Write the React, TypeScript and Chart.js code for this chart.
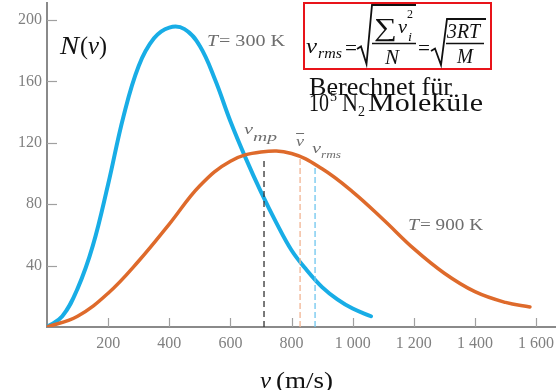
import React, { useEffect, useRef } from "react";
import { Chart, registerables } from "chart.js";

Chart.register(...registerables);

// T = 300 K curve (speed m/s, N(v))
const speedsCold = [0, 50, 100, 150, 200, 250, 300, 350, 400, 450, 500, 550, 600, 650, 700, 750, 800, 850, 900, 950, 1000, 1060];
const countsCold = [0, 7, 25, 53, 93, 137, 170, 188, 195, 194, 183, 161, 134, 110, 88, 68, 50, 37, 26, 18, 12, 7];

// T = 900 K curve
const speedsHot = [0, 100, 200, 300, 400, 500, 600, 700, 800, 900, 1000, 1100, 1200, 1300, 1400, 1500, 1580];
const countsHot = [0, 7, 22, 43, 67, 92, 108, 114, 113, 103, 88, 70, 51, 35, 23, 16, 13];

// characteristic speeds at 900 K: v_mp, v_avg, v_rms
const markerSpeeds = [710, 828, 877];
const markerTops = [110, 111, 104];

const xTickValues = [200, 400, 600, 800, 1000, 1200, 1400, 1600];
const xTickLabels = ["200", "400", "600", "800", "1 000", "1 200", "1 400", "1 600"];
const yTickValues = [40, 80, 120, 160, 200];
const yTickLabels = ["40", "80", "120", "160", "200"];

const X_MAX = 1662;
const Y_MAX = 211;

const BLUE = "#18ade6";
const ORANGE = "#de6a2b";
const AXIS = "#8a8a8a";

function fitText(ctx: CanvasRenderingContext2D, text: string, x: number, y: number, w: number, font: string, color: string) {
  ctx.save();
  ctx.font = font;
  ctx.fillStyle = color;
  ctx.textAlign = "left";
  ctx.textBaseline = "alphabetic";
  const m = ctx.measureText(text).width || 1;
  ctx.translate(x, y);
  ctx.scale(w / m, 1);
  ctx.fillText(text, 0, 0);
  ctx.restore();
}

function path(ctx: CanvasRenderingContext2D, pts: number[][], width: number, color: string) {
  ctx.save();
  ctx.strokeStyle = color;
  ctx.lineWidth = width;
  ctx.lineJoin = "miter";
  ctx.beginPath();
  pts.forEach((p, i) => (i === 0 ? ctx.moveTo(p[0], p[1]) : ctx.lineTo(p[0], p[1])));
  ctx.stroke();
  ctx.restore();
}

const SERIF = "'Liberation Serif', 'DejaVu Serif', serif";

const annotationPlugin = {
  id: "annotations",
  afterDraw(chart: any) {
    const ctx: CanvasRenderingContext2D = chart.ctx;
    const xs = chart.scales.x;
    const ys = chart.scales.y;
    const area = chart.chartArea;

    // inward tick marks
    ctx.save();
    ctx.strokeStyle = "#a0a0a0";
    ctx.lineWidth = 1.2;
    yTickValues.forEach((v) => {
      const py = Math.round(ys.getPixelForValue(v)) + 0.5;
      ctx.beginPath();
      ctx.moveTo(area.left, py);
      ctx.lineTo(area.left + 10, py);
      ctx.stroke();
    });
    xTickValues.forEach((v) => {
      const px = Math.round(xs.getPixelForValue(v)) + 0.5;
      ctx.beginPath();
      ctx.moveTo(px, area.bottom);
      ctx.lineTo(px, area.bottom - 9);
      ctx.stroke();
    });
    ctx.restore();

    const gray = "#6e6e6e";
    // curve labels
    fitText(ctx, "T", 207, 46, 11, `italic 16px ${SERIF}`, gray);
    fitText(ctx, "= 300 K", 219, 46, 66, `16px ${SERIF}`, gray);
    fitText(ctx, "T", 408, 230, 11, `italic 16px ${SERIF}`, gray);
    fitText(ctx, "= 900 K", 420, 230, 63, `16px ${SERIF}`, gray);

    // speed labels
    const pmp = xs.getPixelForValue(markerSpeeds[0]);
    const pav = xs.getPixelForValue(markerSpeeds[1]);
    const prm = xs.getPixelForValue(markerSpeeds[2]);
    fitText(ctx, "v", pmp - 20, 134, 9, `italic 15px ${SERIF}`, gray);
    fitText(ctx, "mp", pmp - 11, 141, 24, `italic 12px ${SERIF}`, gray);
    fitText(ctx, "v", pav - 4, 146, 8, `italic 15px ${SERIF}`, gray);
    path(ctx, [[pav - 4, 133.5], [pav + 4, 133.5]], 1, gray);
    fitText(ctx, "v", prm - 3, 153, 9, `italic 15px ${SERIF}`, gray);
    fitText(ctx, "rms", prm + 6, 158, 20, `italic 11px ${SERIF}`, gray);

    // N(v)
    fitText(ctx, "N", 60, 54, 19, `italic 25px ${SERIF}`, "#111");
    fitText(ctx, "(", 80, 54, 8, `25px ${SERIF}`, "#111");
    fitText(ctx, "v", 88, 54, 11, `italic 25px ${SERIF}`, "#111");
    fitText(ctx, ")", 99, 54, 8, `25px ${SERIF}`, "#111");

    // x-axis title
    fitText(ctx, "v", 260, 388, 11, `italic 24px ${SERIF}`, "#111");
    fitText(ctx, "(m/s)", 276, 388, 57, `24px ${SERIF}`, "#111");

    // formula box
    ctx.save();
    ctx.strokeStyle = "#e8141a";
    ctx.lineWidth = 2;
    ctx.strokeRect(304, 3, 187, 66);
    ctx.restore();
    const k = "#111";
    fitText(ctx, "v", 306, 53, 11, `italic 21px ${SERIF}`, k);
    fitText(ctx, "rms", 318, 58, 24, `italic 14px ${SERIF}`, k);
    fitText(ctx, "=", 345, 55, 12, `20px ${SERIF}`, k);
    path(ctx, [[357, 49], [361, 46.5], [366.5, 64], [372, 5], [416, 5]], 1.8, k);
    fitText(ctx, "\u2211", 374, 36, 23, `26px ${SERIF}`, k);
    fitText(ctx, "v", 398, 33, 9, `italic 18px ${SERIF}`, k);
    fitText(ctx, "2", 407, 18, 6, `12px ${SERIF}`, k);
    fitText(ctx, "i", 408, 41, 4, `italic 13px ${SERIF}`, k);
    path(ctx, [[372, 43.5], [416, 43.5]], 1.6, k);
    fitText(ctx, "N", 385, 64, 14, `italic 20px ${SERIF}`, k);
    fitText(ctx, "=", 418, 55, 12, `20px ${SERIF}`, k);
    path(ctx, [[431, 51], [435, 48.5], [441, 65], [447, 19], [486, 19]], 1.8, k);
    fitText(ctx, "3RT", 447, 38, 33, `italic 20px ${SERIF}`, k);
    path(ctx, [[446, 43.5], [484, 43.5]], 1.6, k);
    fitText(ctx, "M", 457, 63, 16, `italic 20px ${SERIF}`, k);

    // description
    fitText(ctx, "Berechnet f\u00fcr", 309, 95, 143, `25px ${SERIF}`, k);
    fitText(ctx, "10", 309, 111, 20, `25px ${SERIF}`, k);
    fitText(ctx, "5", 330, 101, 7, `15px ${SERIF}`, k);
    fitText(ctx, "N", 342, 111, 16, `25px ${SERIF}`, k);
    fitText(ctx, "2", 358, 116, 7, `15px ${SERIF}`, k);
    fitText(ctx, "Molek\u00fcle", 368, 111, 115, `26px ${SERIF}`, k);
  },
};

export default function App() {
  const ref = useRef<HTMLCanvasElement>(null);

  useEffect(() => {
    if (!ref.current) return;
    const toPts = (xs: number[], ys: number[]) => xs.map((x, i) => ({ x, y: ys[i] }));
    const markerColors = ["#333333", "#f2b493", "#6fc6ee"];
    const markerDash = [[6, 4], [6, 3], [6, 3]];
    const markerSets = markerSpeeds.map((s, i) => ({
      data: [{ x: s, y: 0 }, { x: s, y: markerTops[i] }],
      borderColor: markerColors[i],
      borderWidth: 1.3,
      borderDash: markerDash[i],
      pointRadius: 0,
      tension: 0,
    }));

    const chart = new Chart(ref.current, {
      type: "line",
      data: {
        datasets: [
          ...markerSets,
          {
            data: toPts(speedsHot, countsHot),
            borderColor: ORANGE,
            borderWidth: 3.5,
            pointRadius: 0,
            tension: 0.4,
            borderCapStyle: "round",
          },
          {
            data: toPts(speedsCold, countsCold),
            borderColor: BLUE,
            borderWidth: 4,
            pointRadius: 0,
            tension: 0.4,
            borderCapStyle: "round",
          },
        ] as any,
      },
      options: {
        responsive: false,
        animation: false,
        layout: { padding: { left: 0, top: 3, right: 3, bottom: 0 } },
        plugins: { legend: { display: false }, tooltip: { enabled: false } },
        scales: {
          x: {
            type: "linear",
            min: 0,
            max: X_MAX,
            afterBuildTicks: (axis: any) => {
              axis.ticks = xTickValues.map((v) => ({ value: v }));
            },
            afterFit: (scale: any) => {
              scale.height = 63;
              scale.paddingLeft = 0;
              scale.paddingRight = 0;
            },
            grid: { display: false, drawTicks: false },
            border: { display: true, color: AXIS, width: 2 },
            ticks: {
              autoSkip: false,
              maxRotation: 0,
              padding: 7,
              color: "#808080",
              font: { family: "'Liberation Serif', serif", size: 16 },
              callback: (v: any) => xTickLabels[xTickValues.indexOf(Number(v))] ?? "",
            },
          },
          y: {
            min: 0,
            max: Y_MAX,
            afterBuildTicks: (axis: any) => {
              axis.ticks = yTickValues.map((v) => ({ value: v }));
            },
            afterFit: (scale: any) => {
              scale.width = 47;
              scale.paddingTop = 0;
              scale.paddingBottom = 0;
            },
            grid: { display: false, drawTicks: false },
            border: { display: true, color: AXIS, width: 2 },
            ticks: {
              padding: 5,
              color: "#808080",
              font: { family: "'Liberation Serif', serif", size: 16 },
              callback: (v: any) => yTickLabels[yTickValues.indexOf(Number(v))] ?? "",
            },
          },
        },
      },
      plugins: [annotationPlugin],
    });
    return () => chart.destroy();
  }, []);

  return (
    <div style={{ position: "absolute", left: 0, top: 0, width: 558, height: 390, background: "#fff" }}>
      <canvas ref={ref} width={558} height={390} style={{ display: "block" }} />
    </div>
  );
}
